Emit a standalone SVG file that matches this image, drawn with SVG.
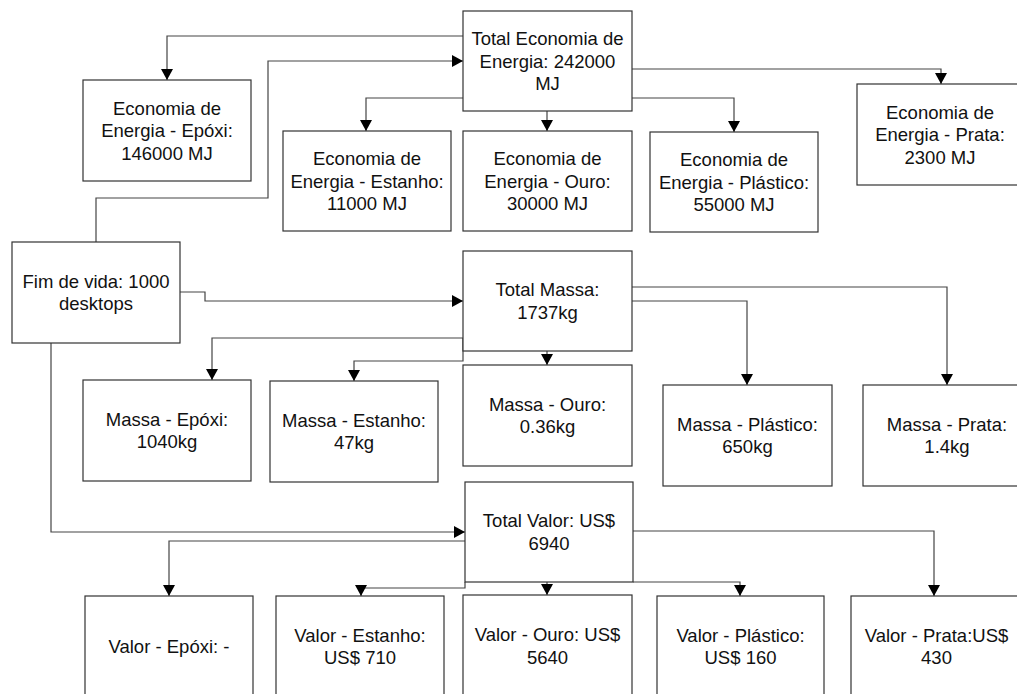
<svg xmlns="http://www.w3.org/2000/svg" width="1017" height="694" viewBox="0 0 1017 694">
<style>
.box{fill:#fff;stroke:#333;stroke-width:1.2}
.lbl{font-family:"Liberation Sans",Arial,sans-serif;font-size:18.5px;fill:#111;text-anchor:middle}
.con{fill:none;stroke:#444;stroke-width:1.2}
</style>
<defs>
<marker id="arr" viewBox="0 0 11 12" refX="11" refY="6" markerWidth="11" markerHeight="12" markerUnits="userSpaceOnUse" orient="auto">
<path d="M0,0 L11,6 L0,12 z" fill="#000"/>
</marker>
</defs>
<rect width="1017" height="694" fill="#fff"/>
<g id="connectors">
<path class="con" d="M463,36 H167 V80" marker-end="url(#arr)"/>
<path class="con" d="M96,242 V198 H268 V61 H463" marker-end="url(#arr)"/>
<path class="con" d="M463,98 H366 V131" marker-end="url(#arr)"/>
<path class="con" d="M547,111 V131" marker-end="url(#arr)"/>
<path class="con" d="M632,98 H734 V132" marker-end="url(#arr)"/>
<path class="con" d="M632,69 H941 V84" marker-end="url(#arr)"/>
<path class="con" d="M180,292 H205 V301 H463" marker-end="url(#arr)"/>
<path class="con" d="M463,338 H212 V380" marker-end="url(#arr)"/>
<path class="con" d="M463,338 V361 H354 V381" marker-end="url(#arr)"/>
<path class="con" d="M547,351 V365" marker-end="url(#arr)"/>
<path class="con" d="M632,301 H747 V385" marker-end="url(#arr)"/>
<path class="con" d="M632,287 H947 V385" marker-end="url(#arr)"/>
<path class="con" d="M51,343 V532 H465" marker-end="url(#arr)"/>
<path class="con" d="M465,541 H169 V596" marker-end="url(#arr)"/>
<path class="con" d="M465,582 V588 H361 V596" marker-end="url(#arr)"/>
<path class="con" d="M547,582 V595" marker-end="url(#arr)"/>
<path class="con" d="M633,582 H740 V596" marker-end="url(#arr)"/>
<path class="con" d="M633,531 H934 V596" marker-end="url(#arr)"/>
</g>
<g id="total_energia"><rect class="box" x="463" y="11" width="169" height="100"/>
<text class="lbl" x="547.5" y="45">Total Economia de</text><text class="lbl" x="547.5" y="67.5">Energia: 242000</text><text class="lbl" x="547.5" y="90">MJ</text></g>
<g id="energia_epoxi"><rect class="box" x="83" y="80" width="168" height="101"/>
<text class="lbl" x="167" y="114.5">Economia de</text><text class="lbl" x="167" y="137">Energia - Epóxi:</text><text class="lbl" x="167" y="159.5">146000 MJ</text></g>
<g id="energia_estanho"><rect class="box" x="283" y="131" width="168" height="100"/>
<text class="lbl" x="367" y="165">Economia de</text><text class="lbl" x="367" y="187.5">Energia - Estanho:</text><text class="lbl" x="367" y="210">11000 MJ</text></g>
<g id="energia_ouro"><rect class="box" x="463" y="131" width="169" height="100"/>
<text class="lbl" x="547.5" y="165">Economia de</text><text class="lbl" x="547.5" y="187.5">Energia - Ouro:</text><text class="lbl" x="547.5" y="210">30000 MJ</text></g>
<g id="energia_plastico"><rect class="box" x="650" y="132" width="168" height="100"/>
<text class="lbl" x="734" y="166">Economia de</text><text class="lbl" x="734" y="188.5">Energia - Plástico:</text><text class="lbl" x="734" y="211">55000 MJ</text></g>
<g id="energia_prata"><rect class="box" x="857" y="84" width="166" height="101"/>
<text class="lbl" x="940" y="118.5">Economia de</text><text class="lbl" x="940" y="141">Energia - Prata:</text><text class="lbl" x="940" y="163.5">2300 MJ</text></g>
<g id="fim_de_vida"><rect class="box" x="12" y="242" width="168" height="101"/>
<text class="lbl" x="96" y="287.75">Fim de vida: 1000</text><text class="lbl" x="96" y="310.25">desktops</text></g>
<g id="total_massa"><rect class="box" x="463" y="251" width="169" height="100"/>
<text class="lbl" x="547.5" y="296.25">Total Massa:</text><text class="lbl" x="547.5" y="318.75">1737kg</text></g>
<g id="massa_epoxi"><rect class="box" x="83" y="380" width="168" height="101"/>
<text class="lbl" x="167" y="425.75">Massa - Epóxi:</text><text class="lbl" x="167" y="448.25">1040kg</text></g>
<g id="massa_estanho"><rect class="box" x="270" y="381" width="168" height="101"/>
<text class="lbl" x="354" y="426.75">Massa - Estanho:</text><text class="lbl" x="354" y="449.25">47kg</text></g>
<g id="massa_ouro"><rect class="box" x="463" y="365" width="169" height="101"/>
<text class="lbl" x="547.5" y="410.75">Massa - Ouro:</text><text class="lbl" x="547.5" y="433.25">0.36kg</text></g>
<g id="massa_plastico"><rect class="box" x="663" y="385" width="169" height="101"/>
<text class="lbl" x="747.5" y="430.75">Massa - Plástico:</text><text class="lbl" x="747.5" y="453.25">650kg</text></g>
<g id="massa_prata"><rect class="box" x="863" y="385" width="168" height="101"/>
<text class="lbl" x="947" y="430.75">Massa - Prata:</text><text class="lbl" x="947" y="453.25">1.4kg</text></g>
<g id="total_valor"><rect class="box" x="465" y="482" width="168" height="100"/>
<text class="lbl" x="549" y="527.25">Total Valor: US$</text><text class="lbl" x="549" y="549.75">6940</text></g>
<g id="valor_epoxi"><rect class="box" x="85" y="596" width="168" height="101"/>
<text class="lbl" x="169" y="653">Valor - Epóxi: -</text></g>
<g id="valor_estanho"><rect class="box" x="276" y="596" width="168" height="101"/>
<text class="lbl" x="360" y="641.75">Valor - Estanho:</text><text class="lbl" x="360" y="664.25">US$ 710</text></g>
<g id="valor_ouro"><rect class="box" x="463" y="595" width="169" height="102"/>
<text class="lbl" x="547.5" y="641.25">Valor - Ouro: US$</text><text class="lbl" x="547.5" y="663.75">5640</text></g>
<g id="valor_plastico"><rect class="box" x="657" y="596" width="167" height="101"/>
<text class="lbl" x="740.5" y="641.75">Valor - Plástico:</text><text class="lbl" x="740.5" y="664.25">US$ 160</text></g>
<g id="valor_prata"><rect class="box" x="851" y="596" width="171" height="101"/>
<text class="lbl" x="936.5" y="641.75">Valor - Prata:US$</text><text class="lbl" x="936.5" y="664.25">430</text></g>
</svg>
